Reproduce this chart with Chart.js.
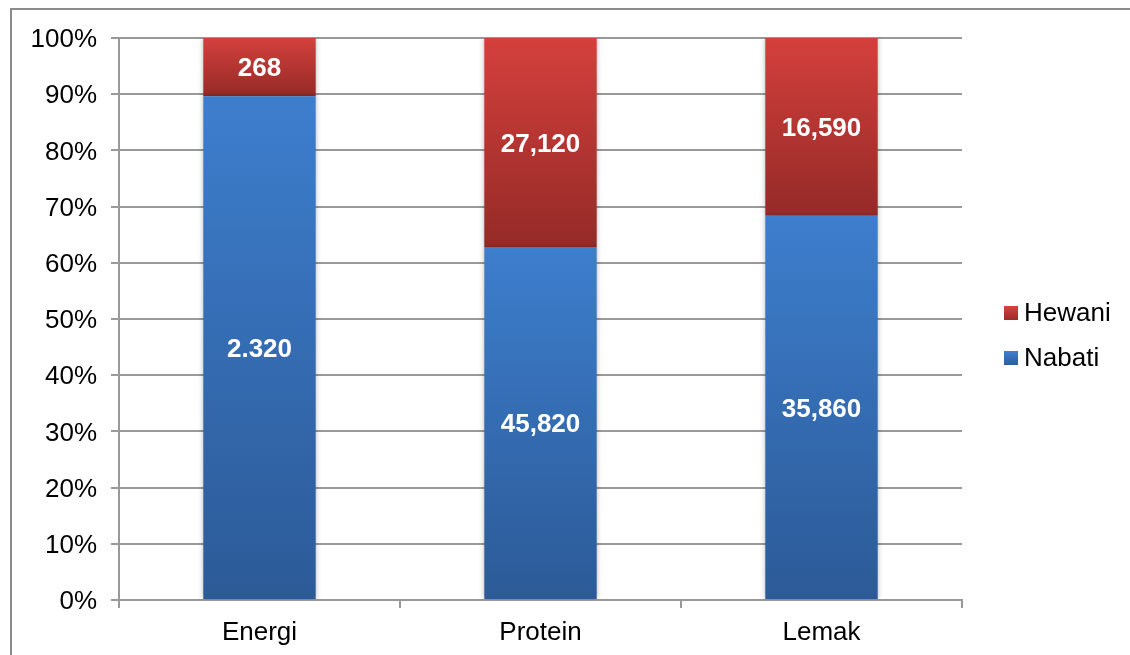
<!DOCTYPE html>
<html>
<head>
<meta charset="utf-8">
<script src="https://cdn.jsdelivr.net/npm/chart.js@4.4.1/dist/chart.umd.min.js"></script>
<style>
  html, body { margin: 0; padding: 0; background: #ffffff; }
  #wrap { width: 1130px; height: 655px; position: relative; }
</style>
</head>
<body>
<div id="wrap"><canvas id="c" width="1130" height="655"></canvas></div>
<script>
// Categories and raw values (g / kkal) for each source
const categories = ['Energi', 'Protein', 'Lemak'];
const nabatiValues = [2320, 45.82, 35.86];
const hewaniValues = [268, 27.12, 16.59];
// Value labels as printed on each segment
const nabatiLabels = ['2.320', '45,820', '35,860'];
const hewaniLabels = ['268', '27,120', '16,590'];
const yTickLabels = ['0%', '10%', '20%', '30%', '40%', '50%', '60%', '70%', '80%', '90%', '100%'];

// 100% stacked shares
const totals = nabatiValues.map((v, i) => v + hewaniValues[i]);
const nabatiPct = nabatiValues.map((v, i) => v / totals[i] * 100);
const hewaniPct = hewaniValues.map((v, i) => v / totals[i] * 100);

const FONT = 'Liberation Sans, Arial, sans-serif';

// Vertical gradient spanning one bar segment
function segmentGradient(top, bottom) {
  return function (ctx) {
    const chart = ctx.chart;
    const y = chart.scales && chart.scales.y;
    if (!chart.chartArea || !y || ctx.dataIndex === undefined) return top;
    const i = ctx.dataIndex;
    let lo, hi;
    if (ctx.datasetIndex === 0) { lo = 0; hi = nabatiPct[i]; }
    else { lo = nabatiPct[i]; hi = nabatiPct[i] + hewaniPct[i]; }
    const y0 = y.getPixelForValue(hi), y1 = y.getPixelForValue(lo);
    const g = chart.ctx.createLinearGradient(0, y0, 0, y1);
    g.addColorStop(0, top);
    g.addColorStop(1, bottom);
    return g;
  };
}

const legendItems = [
  { text: 'Hewani', top: '#d9423e', bottom: '#9a2c29' },
  { text: 'Nabati', top: '#3f80d0', bottom: '#2d5c9b' }
];

const framePlugin = {
  id: 'frame',
  beforeDraw(chart) {
    const c = chart.ctx;
    c.save();
    c.fillStyle = '#ffffff';
    c.fillRect(0, 0, chart.width, chart.height);
    c.strokeStyle = '#8c8c8c';
    c.lineWidth = 2;
    c.strokeRect(11, 9, chart.width + 20, chart.height + 20);
    c.restore();
  },
  beforeDatasetDraw(chart) {
    const c = chart.ctx;
    c.save();
    c.shadowColor = 'rgba(0,0,0,0.28)';
    c.shadowBlur = 5;
    c.shadowOffsetX = 0;
    c.shadowOffsetY = 0;
  },
  afterDatasetDraw(chart) {
    chart.ctx.restore();
  },
  afterDatasetsDraw(chart) {
    const c = chart.ctx;
    c.save();
    c.font = 'bold 26px ' + FONT;
    c.fillStyle = '#ffffff';
    c.textAlign = 'center';
    c.textBaseline = 'middle';
    [nabatiLabels, hewaniLabels].forEach((labels, d) => {
      chart.getDatasetMeta(d).data.forEach((bar, i) => {
        const p = bar.getProps(['x', 'y', 'base'], true);
        c.fillText(labels[i], p.x, (p.y + p.base) / 2 + 2);
      });
    });
    c.restore();
  },
  afterDraw(chart) {
    const c = chart.ctx;
    c.save();
    c.font = '26px ' + FONT;
    c.textBaseline = 'middle';
    c.textAlign = 'left';
    const x0 = 1004, ys = [313, 358];
    legendItems.forEach((it, k) => {
      const g = c.createLinearGradient(0, ys[k] - 7, 0, ys[k] + 7);
      g.addColorStop(0, it.top);
      g.addColorStop(1, it.bottom);
      c.fillStyle = g;
      c.fillRect(x0, ys[k] - 7, 14, 14);
      c.fillStyle = '#000000';
      c.fillText(it.text, x0 + 20, ys[k] + 1);
    });
    c.restore();
  }
};

new Chart(document.getElementById('c'), {
  type: 'bar',
  data: {
    labels: categories,
    datasets: [
      {
        label: 'Nabati',
        data: nabatiPct,
        backgroundColor: segmentGradient('#3d7ecd', '#2c5a97'),
        borderWidth: 0,
        barPercentage: 0.8,
        categoryPercentage: 0.5
      },
      {
        label: 'Hewani',
        data: hewaniPct,
        backgroundColor: segmentGradient('#d4403c', '#942a27'),
        borderWidth: 0,
        barPercentage: 0.8,
        categoryPercentage: 0.5
      }
    ]
  },
  options: {
    responsive: false,
    animation: false,
    devicePixelRatio: 1,
    layout: { padding: { left: 0, top: 38, right: 168, bottom: 0 } },
    plugins: {
      legend: { display: false },
      tooltip: { enabled: false }
    },
    scales: {
      x: {
        stacked: true,
        grid: {
          offset: true,
          drawOnChartArea: false,
          drawTicks: true,
          tickLength: 8,
          color: '#999999',
          lineWidth: 2
        },
        border: { display: true, color: '#999999', width: 2 },
        ticks: {
          color: '#000000',
          font: { family: FONT, size: 26 },
          padding: 9
        },
        afterFit(scale) { scale.height = 55; }
      },
      y: {
        stacked: true,
        min: 0,
        max: 100,
        ticks: {
          stepSize: 10,
          color: '#000000',
          font: { family: FONT, size: 26 },
          padding: 14,
          labelOffset: 2,
          callback: (v) => yTickLabels[Math.round(v / 10)]
        },
        grid: {
          color: '#999999',
          lineWidth: 2,
          drawTicks: true,
          tickLength: 8
        },
        border: { display: true, color: '#999999', width: 2 },
        afterFit(scale) { scale.width = 119; }
      }
    }
  },
  plugins: [framePlugin]
});
</script>
</body>
</html>
